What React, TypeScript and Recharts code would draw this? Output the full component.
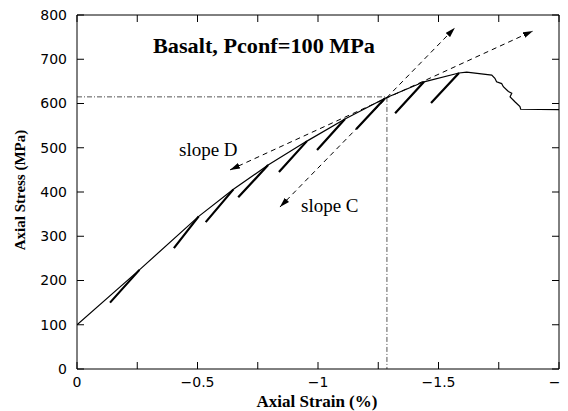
import React from 'react';
import { LineChart, Line, XAxis, YAxis } from 'recharts';

// Axis ticks
const xTicks = [0, -0.25, -0.5, -0.75, -1, -1.25, -1.5, -1.75, -2];
const xTickLabels = ['0', '', '\u22120.5', '', '\u22121', '', '\u22121.5', '', '\u22122'];
const yTicks = [0, 100, 200, 300, 400, 500, 600, 700, 800];

// Main loading curve (strain %, stress MPa)
const mainStrain = [0, -0.259, -0.505, -0.649, -0.793, -0.954, -1.112, -1.278, -1.44, -1.585, -1.617, -1.721, -1.734, -1.741, -1.762, -1.769, -1.79, -1.804, -1.797, -1.817, -1.838, -1.841, -2.0];
const mainStress = [100, 224, 345, 406, 461, 515, 565, 612, 649, 669, 671, 664, 657, 649, 645, 638, 627, 623, 615, 604, 593, 587, 586];

// Unloading / reloading loops
const loopPeakStrain = [-0.259, -0.505, -0.649, -0.793, -0.954, -1.112, -1.278, -1.44, -1.585];
const loopPeakStress = [224, 345, 406, 461, 515, 565, 612, 649, 669];
const loopBaseStrain = [-0.137, -0.402, -0.534, -0.669, -0.838, -0.996, -1.158, -1.32, -1.469];
const loopBaseStress = [150, 273, 332, 388, 445, 495, 542, 578, 601];

// Slope arrows (endpoints)
const slopeCStrain = [-0.842, -1.568];
const slopeCStress = [366, 771];
const slopeDStrain = [-0.635, -1.892];
const slopeDStress = [450, 764];

// Dash-dot guide through the intersection point
const guideStrain = [0, -1.286, -1.286];
const guideStress = [615, 615, 0];

const toPoints = (xs: number[], ys: number[]) => xs.map((x, i) => ({ x, y: ys[i] }));

const mainData = toPoints(mainStrain, mainStress);
const loopData: { x: number; y: number | null }[] = [];
loopPeakStrain.forEach((px, i) => {
  loopData.push({ x: px, y: loopPeakStress[i] });
  loopData.push({ x: loopBaseStrain[i], y: loopBaseStress[i] });
  loopData.push({ x: loopBaseStrain[i], y: null });
});
const slopeCData = toPoints(slopeCStrain, slopeCStress);
const slopeDData = toPoints(slopeDStrain, slopeDStress);
const guideData = toPoints(guideStrain, guideStress);

const tickFont = { fontFamily: 'DejaVu Sans', fontSize: 14, fill: '#000' };
const xLabelFor = (v: number) => {
  const i = xTicks.findIndex((t) => Math.abs(t - v) < 1e-9);
  return i >= 0 ? xTickLabels[i] : '';
};

const XTick = (props: any) => {
  const { x, y, payload } = props;
  return (
    <text x={x} y={y} dy={10} textAnchor="middle" fontFamily="DejaVu Sans" fontSize={14} fill="#000">
      {xLabelFor(payload.value)}
    </text>
  );
};

const W = 570;
const H = 403;

export default function App() {
  return (
    <div style={{ position: 'relative', width: W, height: H }}>
      <style>{`html,body{overflow:hidden}`}</style>
      <svg width={0} height={0} style={{ position: 'absolute' }}>
        <defs>
          <marker
            id="arrowHead"
            viewBox="0 0 10 6"
            refX={10}
            refY={3}
            markerWidth={10}
            markerHeight={6}
            markerUnits="userSpaceOnUse"
            orient="auto-start-reverse"
          >
            <path d="M0,0 L10,3 L0,6 z" fill="#000" />
          </marker>
        </defs>
      </svg>
      <LineChart width={W} height={H} margin={{ top: 6, right: 18, bottom: 0, left: 0 }}>
        <XAxis
          xAxisId="bottom"
          dataKey="x"
          type="number"
          domain={[-2, 0]}
          reversed
          allowDataOverflow
          ticks={xTicks}
          interval={0}
          height={42}
          tickSize={-7}
          tickMargin={15}
          stroke="#000"
          tick={<XTick />}
          orientation="bottom"
        />
        <XAxis
          xAxisId="top"
          dataKey="x"
          type="number"
          domain={[-2, 0]}
          reversed
          allowDataOverflow
          ticks={xTicks}
          interval={0}
          tickFormatter={() => ''}
          height={1}
          tickSize={-7}
          stroke="#000"
          orientation="top"
        />
        <YAxis
          yAxisId="left"
          type="number"
          domain={[0, 800]}
          allowDataOverflow
          ticks={yTicks}
          interval={0}
          width={69}
          tickSize={-7}
          tickMargin={17}
          stroke="#000"
          tick={tickFont}
          orientation="left"
        />
        <YAxis
          yAxisId="right"
          type="number"
          domain={[0, 800]}
          allowDataOverflow
          ticks={yTicks}
          interval={0}
          tickFormatter={() => ''}
          width={1}
          tickSize={-7}
          stroke="#000"
          orientation="right"
        />
        <Line
          xAxisId="bottom"
          yAxisId="left"
          data={guideData}
          dataKey="y"
          type="linear"
          stroke="#555"
          strokeWidth={1}
          strokeDasharray="5 2 1 2"
          dot={false}
          isAnimationActive={false}
        />
        <Line
          xAxisId="bottom"
          yAxisId="left"
          data={slopeCData}
          dataKey="y"
          type="linear"
          stroke="#000"
          strokeWidth={1}
          strokeDasharray="5 4"
          dot={false}
          markerStart="url(#arrowHead)"
          markerEnd="url(#arrowHead)"
          isAnimationActive={false}
        />
        <Line
          xAxisId="bottom"
          yAxisId="left"
          data={slopeDData}
          dataKey="y"
          type="linear"
          stroke="#000"
          strokeWidth={1}
          strokeDasharray="5 4"
          dot={false}
          markerStart="url(#arrowHead)"
          markerEnd="url(#arrowHead)"
          isAnimationActive={false}
        />
        <Line
          xAxisId="bottom"
          yAxisId="left"
          data={mainData}
          dataKey="y"
          type="linear"
          stroke="#000"
          strokeWidth={1.2}
          dot={false}
          isAnimationActive={false}
        />
        <Line
          xAxisId="bottom"
          yAxisId="left"
          data={loopData}
          dataKey="y"
          type="linear"
          stroke="#000"
          strokeWidth={2.2}
          dot={false}
          connectNulls={false}
          isAnimationActive={false}
        />
      </LineChart>
      <svg
        width={W}
        height={H}
        style={{ position: 'absolute', left: 0, top: 0, pointerEvents: 'none', overflow: 'visible' }}
      >
        <text
          x={256}
          y={45}
          textAnchor="middle"
          fontFamily="Liberation Serif"
          fontWeight="bold"
          fontSize={21}
          textLength={222}
          lengthAdjust="spacingAndGlyphs"
          fill="#000"
        >
          Basalt, Pconf=100 MPa
        </text>
        <text x={171} y={148} fontFamily="Liberation Serif" fontSize={19} fill="#000">
          slope D
        </text>
        <text x={293} y={204} fontFamily="Liberation Serif" fontSize={19} fill="#000">
          slope C
        </text>
        <text x={309} y={399} textAnchor="middle" fontFamily="Liberation Serif" fontWeight="bold" fontSize={17} fill="#000">
          Axial Strain (%)
        </text>
        <text
          x={17}
          y={182}
          textAnchor="middle"
          transform="rotate(-90 17 182)"
          fontFamily="Liberation Serif"
          fontWeight="bold"
          fontSize={15}
          fill="#000"
        >
          Axial Stress (MPa)
        </text>
      </svg>
    </div>
  );
}
